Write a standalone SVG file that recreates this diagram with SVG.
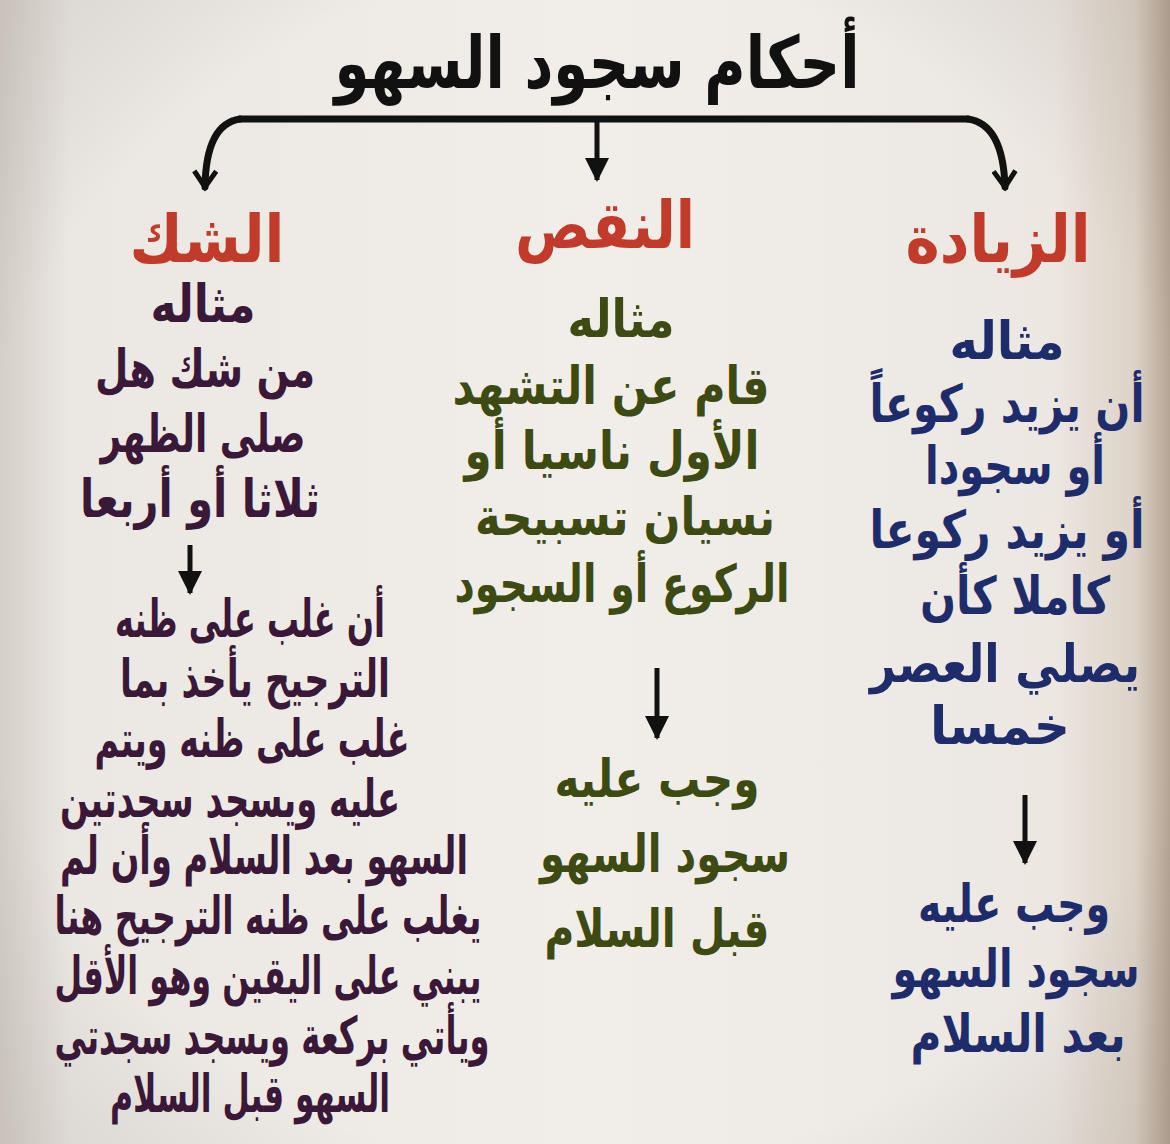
<svg xmlns="http://www.w3.org/2000/svg" width="1170" height="1144" viewBox="0 0 1170 1144">
<defs>
<linearGradient id="bg" x1="0" y1="0" x2="1" y2="0">
<stop offset="0" stop-color="#d6cfc9"/>
<stop offset="0.06" stop-color="#ebe7e2"/>
<stop offset="0.5" stop-color="#f1eeea"/>
<stop offset="0.9" stop-color="#ece7e1"/>
<stop offset="0.97" stop-color="#ddd3c8"/>
<stop offset="1" stop-color="#b5a595"/>
</linearGradient>
<radialGradient id="vig" cx="0.5" cy="0.5" r="0.75">
<stop offset="0.7" stop-color="#000" stop-opacity="0"/>
<stop offset="1" stop-color="#5a4a3a" stop-opacity="0.12"/>
</radialGradient>
<marker id="chev" viewBox="0 0 26 26" refX="21" refY="13" markerWidth="26" markerHeight="26" markerUnits="userSpaceOnUse" orient="auto">
<path d="M5,2 L21,13 L5,24" fill="none" stroke="#111" stroke-width="5" stroke-linejoin="miter"/>
</marker>
<marker id="tri" viewBox="0 0 24 24" refX="22" refY="12" markerWidth="24" markerHeight="24" markerUnits="userSpaceOnUse" orient="auto">
<path d="M0,0 L24,12 L0,24 Z" fill="#111"/>
</marker>
</defs>
<style>
text{font-family:"DejaVu Sans",sans-serif;font-weight:bold;text-anchor:middle;direction:rtl}
.title{font-size:72px;fill:#111}
.head{font-size:66px;fill:#c23a2a}
.l{font-size:52px;fill:#3a1838}
.m{font-size:52px;fill:#3d4a12}
.r{font-size:52px;fill:#1f2c6c}
.line{fill:none;stroke:#111;stroke-width:7;stroke-linecap:round}
.ar{fill:none;stroke:#111;stroke-width:5}
</style>
<rect width="1170" height="1144" fill="url(#bg)"/>
<rect width="1170" height="1144" fill="url(#vig)"/>

<g id="connectors">
<path class="line" d="M240,119 L968,119"/>
<path class="line" d="M240,119 Q206,124 205,187" marker-end="url(#chev)"/>
<path class="line" d="M968,119 Q1003,124 1005,187" marker-end="url(#chev)"/>
<path class="ar" d="M597,121 L597,180" marker-end="url(#tri)"/>
<path class="ar" d="M190,545 L190,593" marker-end="url(#tri)"/>
<path class="ar" d="M657,668 L657,738" marker-end="url(#tri)"/>
<path class="ar" d="M1025,795 L1025,863" marker-end="url(#tri)"/>
</g>

<g id="title"><text class="title" x="597" y="88" textLength="525" lengthAdjust="spacingAndGlyphs">أحكام سجود السهو</text></g>

<g id="col-shak">
<text class="head" x="207" y="262" textLength="155" lengthAdjust="spacingAndGlyphs">الشك</text>
<text class="l" x="203" y="322" textLength="105" lengthAdjust="spacingAndGlyphs">مثاله</text>
<text class="l" x="205" y="387" textLength="220" lengthAdjust="spacingAndGlyphs">من شك هل</text>
<text class="l" x="203" y="452" textLength="205" lengthAdjust="spacingAndGlyphs">صلى الظهر</text>
<text class="l" x="200" y="517" textLength="240" lengthAdjust="spacingAndGlyphs">ثلاثا أو أربعا</text>
<text class="l" x="250" y="637" textLength="270" lengthAdjust="spacingAndGlyphs">أن غلب على ظنه</text>
<text class="l" x="255" y="697" textLength="270" lengthAdjust="spacingAndGlyphs">الترجيح يأخذ بما</text>
<text class="l" x="252" y="757" textLength="315" lengthAdjust="spacingAndGlyphs">غلب على ظنه ويتم</text>
<text class="l" x="230" y="817" textLength="340" lengthAdjust="spacingAndGlyphs">عليه ويسجد سجدتين</text>
<text class="l" x="264" y="874" textLength="408" lengthAdjust="spacingAndGlyphs">السهو بعد السلام وأن لم</text>
<text class="l" x="268" y="934" textLength="427" lengthAdjust="spacingAndGlyphs">يغلب على ظنه الترجيح هنا</text>
<text class="l" x="268" y="994" textLength="427" lengthAdjust="spacingAndGlyphs">يبني على اليقين وهو الأقل</text>
<text class="l" x="272" y="1054" textLength="435" lengthAdjust="spacingAndGlyphs">ويأتي بركعة ويسجد سجدتي</text>
<text class="l" x="250" y="1112" textLength="280" lengthAdjust="spacingAndGlyphs">السهو قبل السلام</text>
</g>

<g id="col-naqs">
<text class="head" x="605" y="248" textLength="180" lengthAdjust="spacingAndGlyphs">النقص</text>
<text class="m" x="621" y="337" textLength="107" lengthAdjust="spacingAndGlyphs">مثاله</text>
<text class="m" x="611" y="404" textLength="317" lengthAdjust="spacingAndGlyphs">قام عن التشهد</text>
<text class="m" x="612" y="469" textLength="295" lengthAdjust="spacingAndGlyphs">الأول ناسيا أو</text>
<text class="m" x="625" y="535" textLength="300" lengthAdjust="spacingAndGlyphs">نسيان تسبيحة</text>
<text class="m" x="622" y="602" textLength="335" lengthAdjust="spacingAndGlyphs">الركوع أو السجود</text>
<text class="m" x="657" y="797" textLength="205" lengthAdjust="spacingAndGlyphs">وجب عليه</text>
<text class="m" x="665" y="872" textLength="250" lengthAdjust="spacingAndGlyphs">سجود السهو</text>
<text class="m" x="657" y="947" textLength="225" lengthAdjust="spacingAndGlyphs">قبل السلام</text>
</g>

<g id="col-ziyada">
<text class="head" x="998" y="262" textLength="185" lengthAdjust="spacingAndGlyphs">الزيادة</text>
<text class="r" x="1007" y="359" textLength="115" lengthAdjust="spacingAndGlyphs">مثاله</text>
<text class="r" x="1007" y="422" textLength="275" lengthAdjust="spacingAndGlyphs">أن يزيد ركوعاً</text>
<text class="r" x="1015" y="484" textLength="180" lengthAdjust="spacingAndGlyphs">أو سجودا</text>
<text class="r" x="1007" y="548" textLength="275" lengthAdjust="spacingAndGlyphs">أو يزيد ركوعا</text>
<text class="r" x="1015" y="614" textLength="190" lengthAdjust="spacingAndGlyphs">كاملا كأن</text>
<text class="r" x="1005" y="682" textLength="270" lengthAdjust="spacingAndGlyphs">يصلي العصر</text>
<text class="r" x="1000" y="744" textLength="140" lengthAdjust="spacingAndGlyphs">خمسا</text>
<text class="r" x="1014" y="922" textLength="192" lengthAdjust="spacingAndGlyphs">وجب عليه</text>
<text class="r" x="1016" y="987" textLength="247" lengthAdjust="spacingAndGlyphs">سجود السهو</text>
<text class="r" x="1018" y="1052" textLength="215" lengthAdjust="spacingAndGlyphs">بعد السلام</text>
</g>
</svg>
